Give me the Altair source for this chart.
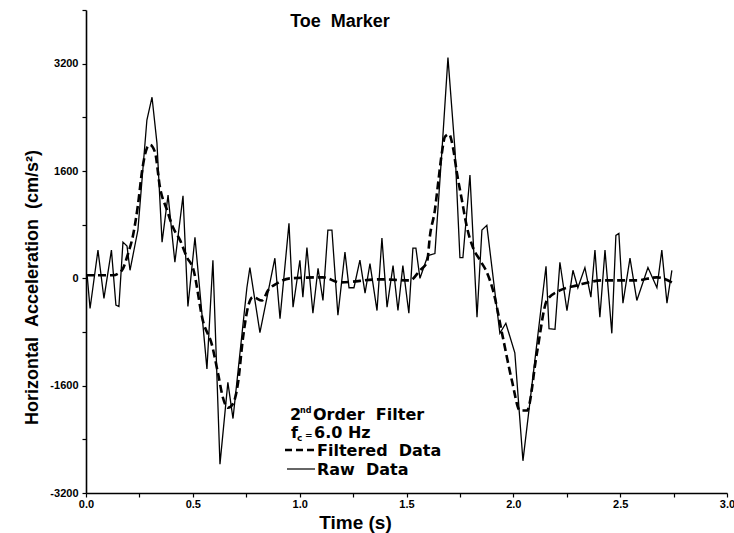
import altair as alt
import pandas as pd

# Toe marker horizontal acceleration, raw vs. 6 Hz low-pass filtered
raw_time = [0.005, 0.019, 0.056, 0.084, 0.119, 0.140, 0.154, 0.173, 0.192, 0.206,
            0.243, 0.285, 0.309, 0.332, 0.356, 0.384, 0.416, 0.454, 0.477, 0.510,
            0.566, 0.594, 0.627, 0.664, 0.688, 0.753, 0.767, 0.814, 0.884, 0.908,
            0.950, 0.969, 1.001, 1.015, 1.034, 1.062, 1.086, 1.109, 1.132, 1.151,
            1.179, 1.212, 1.231, 1.254, 1.282, 1.306, 1.329, 1.362, 1.385, 1.409,
            1.437, 1.460, 1.483, 1.511, 1.530, 1.544, 1.563, 1.600, 1.633, 1.666,
            1.694, 1.727, 1.750, 1.764, 1.797, 1.830, 1.853, 1.876, 1.937, 1.965,
            2.007, 2.045, 2.153, 2.167, 2.195, 2.218, 2.251, 2.279, 2.302, 2.335,
            2.363, 2.382, 2.405, 2.429, 2.461, 2.480, 2.494, 2.513, 2.546, 2.578,
            2.630, 2.672, 2.695, 2.719, 2.742]
raw_accel = [60, -450, 420, -300, 420, -400, -420, 540, 480, 120,
             720, 2360, 2700, 2020, 540, 1240, 240, 1230, -420, 610,
             -1350, 270, -2770, -1550, -2090, -140, 160, -810, 300, -600,
             820, -430, 270, -280, 460, -520, 150, -330, 720, 720,
             -550, 390, -140, -140, 270, -220, 220, -480, 600, -430,
             190, -480, 190, -520, 450, 450, 0, 340, 370, 1910,
             3290, 1910, 310, 310, 1540, -580, 720, 790, -820, -670,
             -1110, -2720, 180, -750, -760, 240, -480, 120, -140, 160,
             -280, 420, -580, 420, -820, 640, 670, -370, 300, -330,
             160, -140, 420, -370, 120]

filt_time = [0.0, 0.126, 0.168, 0.197, 0.220, 0.243, 0.262, 0.285, 0.299, 0.323,
             0.346, 0.379, 0.407, 0.440, 0.473, 0.501, 0.547, 0.590, 0.618, 0.641,
             0.664, 0.688, 0.711, 0.735, 0.758, 0.781, 0.824, 0.852, 0.894, 0.955,
             1.109, 1.189, 1.376, 1.516, 1.563, 1.596, 1.610, 1.633, 1.647, 1.666,
             1.680, 1.699, 1.717, 1.736, 1.759, 1.783, 1.811, 1.844, 1.876, 1.905,
             1.951, 1.993, 2.031, 2.064, 2.110, 2.157, 2.218, 2.298, 2.419, 2.578,
             2.672, 2.742]
filt_accel = [45, 45, 120, 370, 640, 1090, 1590, 1940, 1990, 1880,
              1360, 1020, 760, 570, 310, 150, -630, -1000, -1420, -1780,
              -1930, -1870, -1570, -880, -430, -280, -330, -180, -75, 0,
              15, -60, -15, -30, 120, 240, 640, 1020, 1390, 1880,
              2110, 2150, 1960, 1570, 1170, 760, 460, 270, 90, -180,
              -880, -1520, -1970, -1970, -1120, -330, -180, -105, -30, -30,
              15, -60]

time_ticks = [0.0, 0.25, 0.5, 0.75, 1.0, 1.25, 1.5, 1.75, 2.0, 2.25, 2.5, 2.75, 3.0]
accel_ticks = [-3200, -2400, -1600, -800, 0, 800, 1600, 2400, 3200, 4000]

FONT = "Liberation Sans"
KEY_FONT = "DejaVu Sans"
GAP = "\u00a0\u00a0"  # wide word spacing
W, H = 641, 483

raw = pd.DataFrame({"time": raw_time, "accel": raw_accel})
filt = pd.DataFrame({"time": filt_time, "accel": filt_accel})

x_enc = alt.X(
    "time:Q",
    scale=alt.Scale(domain=[0, 3], nice=False, zero=False),
    axis=alt.Axis(
        values=time_ticks,
        labelExpr="(datum.value * 2) % 1 == 0 ? format(datum.value, '.1f') : ''",
        labelFlush=False,
        title="Time (s)",
        titleX=269, titleY=35, titleAlign="center", titleBaseline="alphabetic",
        titleFontSize=19, labelPadding=1,
    ),
)
y_enc = alt.Y(
    "accel:Q",
    scale=alt.Scale(domain=[-3200, 4000], nice=False),
    axis=alt.Axis(
        values=accel_ticks,
        labelExpr="datum.value % 1600 == 0 && datum.value < 4000 ? datum.value : ''",
        labelFlush=False,
        title="Horizontal" + GAP + "Acceleration" + GAP + "(cm/s²)",
        titleX=-49, titleY=277, titleAlign="center", titleBaseline="alphabetic",
        titleAngle=270, titleFontSize=18, labelPadding=4,
    ),
)

raw_line = alt.Chart(raw).mark_line(color="black", strokeWidth=1.3).encode(x=x_enc, y=y_enc)
filt_line = alt.Chart(filt).mark_line(
    color="black", strokeWidth=2.6, strokeDash=[8, 4], interpolate="monotone"
).encode(x="time:Q", y="accel:Q")

one = alt.Data(values=[{}])


def label(text, x, y, size=16, font=KEY_FONT):
    return alt.Chart(one).mark_text(
        text=text, font=font, fontWeight="bold", fontSize=size, color="black",
        align="left", baseline="alphabetic",
    ).encode(x=alt.value(x), y=alt.value(y))


title = alt.Chart(one).mark_text(
    text="Toe" + GAP + "Marker", font=FONT, fontWeight="bold", fontSize=18, color="black",
    align="center", baseline="alphabetic",
).encode(x=alt.value(254), y=alt.value(17))

key = [
    label("2", 204, 410),
    label("nd", 214, 403, 8),
    label("Order" + GAP + "Filter", 227, 410),
    label("f", 205, 428),
    label("c", 211, 431, 9),
    label("=", 219, 428, 9),
    label("6.0 Hz", 228, 428),
    alt.Chart(one).mark_rule(color="black", strokeWidth=2.4, strokeDash=[7, 4]).encode(
        x=alt.value(199), x2=alt.value(229), y=alt.value(440)),
    label("Filtered" + GAP + "Data", 231, 446),
    alt.Chart(one).mark_rule(color="black", strokeWidth=1.2).encode(
        x=alt.value(201), x2=alt.value(229), y=alt.value(459)),
    label("Raw" + GAP + "Data", 231, 465),
]

chart = alt.layer(raw_line, filt_line, title, *key).properties(
    width=W, height=H,
    autosize=alt.AutoSizeParams(type="none"),
    padding={"left": 86, "top": 10, "right": 7, "bottom": 40},
    background="white",
).configure_view(stroke=None).configure_axis(
    grid=False, domainColor="black", domainWidth=1.6, tickColor="black",
    tickWidth=1.2, tickSize=4, labelFont=FONT, labelFontWeight="bold",
    labelFontSize=11, labelColor="black", titleFont=FONT, titleFontWeight="bold",
    titleColor="black",
)

chart.save("out.html", embed_options={"renderer": "svg", "actions": False})
